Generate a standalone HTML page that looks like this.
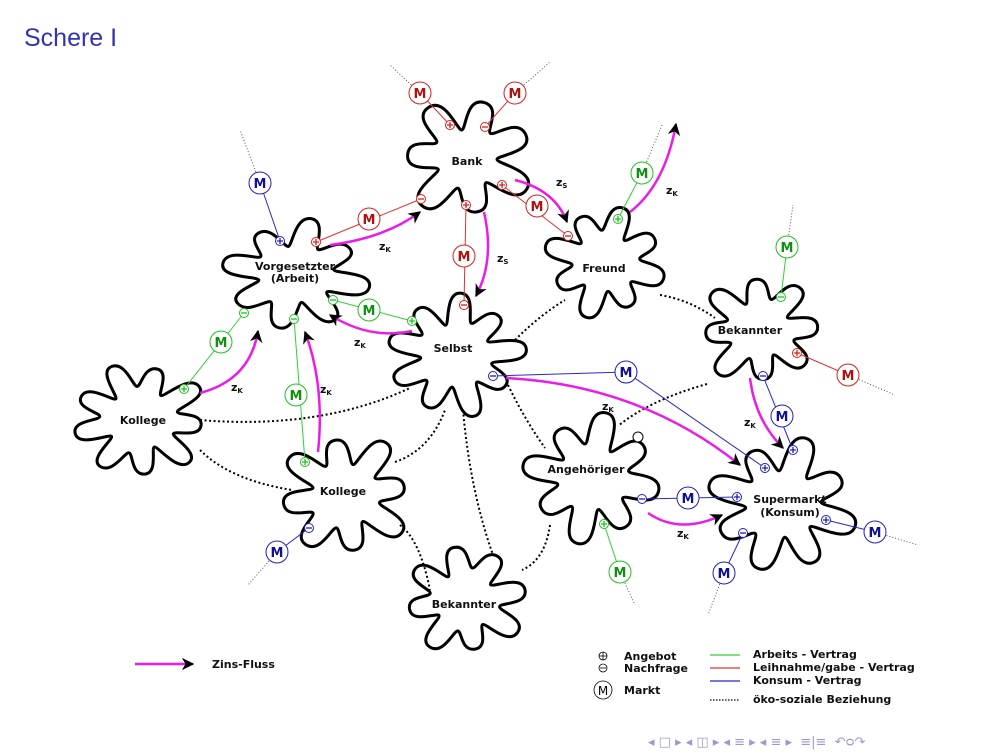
<!DOCTYPE html>
<html><head><meta charset="utf-8">
<style>
html,body{margin:0;padding:0;background:#fff;width:1008px;height:756px;overflow:hidden}
svg{display:block}
text{font-family:"DejaVu Sans","Liberation Sans",sans-serif}
.lb{font-size:11px;font-weight:bold;fill:#111}
.z{font-size:11px;font-weight:bold;fill:#111}
</style></head><body>
<svg id="s" width="1008" height="756" viewBox="0 0 1008 756" xmlns="http://www.w3.org/2000/svg">
<defs>
<marker id="ah" viewBox="0 0 10 10" refX="9" refY="5" markerWidth="5" markerHeight="5" orient="auto"><path d="M0,0 L10,5 L0,10 L3,5z" fill="#000"/></marker>
</defs>
<text x="24" y="46" font-size="25" fill="#3333b2" style="font-family:'Liberation Sans',sans-serif">Schere I</text>
<g id="blobs" fill="none" stroke="#000" stroke-width="3"></g>
<g fill="none" stroke="#000" stroke-width="2" stroke-dasharray="2,2.5">
<path d="M515,340 Q540,315 565,300"/>
<path d="M660,295 Q690,300 715,318"/>
<path d="M707,384 Q650,400 618,426"/>
<path d="M200,420 Q320,430 410,388"/>
<path d="M200,450 Q230,480 292,490"/>
<path d="M395,462 Q430,450 445,410"/>
<path d="M463,410 Q470,490 493,555"/>
<path d="M400,525 Q420,540 430,590"/>
<path d="M508,385 Q525,420 545,448"/>
<path d="M550,525 Q545,560 522,570"/>
</g>
<g fill="none" stroke="#555" stroke-width="1" stroke-dasharray="1,2">
<path d="M420,93 L390,65"/><path d="M515,93 L550,62"/><path d="M260,183 L240,130"/>
<path d="M642,173 L662,125"/><path d="M787,247 L793,205"/><path d="M848,375 L895,395"/>
<path d="M875,532 L918,545"/><path d="M724,573 L708,615"/><path d="M277,552 L248,585"/><path d="M620,572 L635,605"/>
</g>
<g fill="none" stroke-width="1">
<g stroke="#e03030"><path d="M420,93 L450,125"/><path d="M515,93 L485,127"/><path d="M502,185 L568,236"/><path d="M421,199 L316,242"/><path d="M466,205 L464,305"/><path d="M797,353 L848,375"/></g>
<g stroke="#2828c8"><path d="M260,183 L280,241"/><path d="M493,376 L626,372 L765,468"/><path d="M763,376 L793,450"/><path d="M642,499 L737,497"/><path d="M826,520 L875,532"/><path d="M743,533 L724,573"/><path d="M309,528 L277,552"/></g>
<g stroke="#30d030"><path d="M618,219 L642,173"/><path d="M787,247 L781,297"/><path d="M244,313 L184,389"/><path d="M294,319 L305,462"/><path d="M333,300 L412,321"/><path d="M604,524 L620,572"/></g>
</g>
<g fill="none" stroke="#e81ee8" stroke-width="2.5" marker-end="url(#ah)">
<path d="M330,245 Q385,238 420,212"/>
<path d="M515,180 Q555,190 567,222"/>
<path d="M484,212 Q495,260 476,296"/>
<path d="M630,212 Q665,185 676,124"/>
<path d="M412,331 Q370,340 330,315"/>
<path d="M200,393 Q250,380 258,331"/>
<path d="M318,452 Q325,385 305,332"/>
<path d="M506,378 Q640,385 740,465"/>
<path d="M750,378 Q755,420 783,448"/>
<path d="M648,513 Q680,535 722,515"/>
<path d="M135,664 L193,664"/>
</g>
<g id="marks"></g>
<circle cx="638" cy="437" r="5" fill="#fff" stroke="#000" stroke-width="1"/>
<g class="lb" text-anchor="middle">
<text x="467" y="165">Bank</text>
<text x="295" y="270">Vorgesetzter</text><text x="295" y="282">(Arbeit)</text>
<text x="604" y="272">Freund</text>
<text x="453" y="352">Selbst</text>
<text x="750" y="334">Bekannter</text>
<text x="143" y="424">Kollege</text>
<text x="343" y="495">Kollege</text>
<text x="586" y="473">Angehöriger</text>
<text x="790" y="503">Supermarkt</text><text x="790" y="516">(Konsum)</text>
<text x="464" y="608">Bekannter</text>
</g>
<g class="z">
<text x="379" y="250">z<tspan font-size="7" dy="2">K</tspan></text>
<text x="556" y="186">z<tspan font-size="7" dy="2">S</tspan></text>
<text x="497" y="262">z<tspan font-size="7" dy="2">S</tspan></text>
<text x="666" y="194">z<tspan font-size="7" dy="2">K</tspan></text>
<text x="354" y="346">z<tspan font-size="7" dy="2">K</tspan></text>
<text x="231" y="391">z<tspan font-size="7" dy="2">K</tspan></text>
<text x="320" y="393">z<tspan font-size="7" dy="2">K</tspan></text>
<text x="602" y="410">z<tspan font-size="7" dy="2">K</tspan></text>
<text x="744" y="426">z<tspan font-size="7" dy="2">K</tspan></text>
<text x="677" y="537">z<tspan font-size="7" dy="2">K</tspan></text>
</g>
<text x="212" y="668" class="lb">Zins-Fluss</text>
<g class="lb">
<text x="624" y="660">Angebot</text><text x="624" y="672">Nachfrage</text><text x="624" y="694">Markt</text>
<text x="753" y="658">Arbeits - Vertrag</text><text x="753" y="671">Leihnahme/gabe - Vertrag</text><text x="753" y="684">Konsum - Vertrag</text><text x="753" y="703">öko-soziale Beziehung</text>
</g>
<g stroke-width="1.2"><path d="M710,655 H740" stroke="#30d030"/><path d="M710,668 H740" stroke="#e03030"/><path d="M710,681 H740" stroke="#2828c8"/><path d="M710,700 H740" stroke="#000" stroke-dasharray="1.5,1.5"/></g>
<g fill="none" stroke="#000" stroke-width="0.8"><circle cx="603" cy="656" r="4"/><path d="M599,656h8M603,652v8"/><circle cx="603" cy="668" r="4"/><path d="M600,668h6"/><circle cx="603" cy="690" r="9"/></g>
<text x="603" y="695" text-anchor="middle" font-size="12" fill="#000">M</text>
<text x="648" y="746" font-size="13" fill="#9a9acc">◂ □ ▸ ◂ ◫ ▸ ◂ ≡ ▸ ◂ ≡ ▸ &#160;≡|≡ &#160;↶ᴑ↷</text>
</svg>
<script>
(function(){
var NS="http://www.w3.org/2000/svg";
function blob(cx,cy,rx,ry,n,a,ph){
 var K=2*n,pts=[];
 for(var k=0;k<K;k++){
  var t=ph+k*Math.PI/n;
  var out=(k%2==0);
  var jit=1+0.08*Math.sin(k*1.7+ph*3);
  var r=(out?1+a:1-a)*jit;
  var x=cx+rx*r*Math.cos(t),y=cy+ry*r*Math.sin(t);
  var tx=-rx*Math.sin(t),ty=ry*Math.cos(t);var tl=Math.hypot(tx,ty);tx/=tl;ty/=tl;
  var L=(out?1.15:0.55)*r*Math.min(rx,ry)*Math.PI/n*0.62;
  pts.push({x:x,y:y,tx:tx,ty:ty,L:L});
 }
 var d="M"+pts[0].x.toFixed(1)+","+pts[0].y.toFixed(1);
 for(var k=0;k<K;k++){var p=pts[k],q=pts[(k+1)%K];
  d+="C"+(p.x+p.tx*p.L).toFixed(1)+","+(p.y+p.ty*p.L).toFixed(1)+" "+(q.x-q.tx*q.L).toFixed(1)+","+(q.y-q.ty*q.L).toFixed(1)+" "+q.x.toFixed(1)+","+q.y.toFixed(1);}
 var e=document.createElementNS(NS,"path");e.setAttribute("d",d+"Z");
 document.getElementById("blobs").appendChild(e);}
blob(467,158,48,45,7,0.32,0.5);
blob(295,275,55,42,8,0.28,1);
blob(605,262,45,42,8,0.28,0.3);
blob(455,355,52,46,9,0.28,2);
blob(760,330,46,42,8,0.28,1.5);
blob(140,420,52,44,9,0.28,0.8);
blob(345,495,50,46,8,0.3,2.2);
blob(592,478,50,48,8,0.3,0.2);
blob(782,505,55,50,8,0.3,1.1);
blob(465,600,46,42,8,0.28,0.6);
var g=document.getElementById("marks");
var C={r:"#d42020",b:"#2020c0",g:"#20c020"};
var Mk={r:"#b01010",b:"#101090",g:"#109010"};
function M(x,y,c){var e=document.createElementNS(NS,"circle");e.setAttribute("cx",x);e.setAttribute("cy",y);e.setAttribute("r",11);e.setAttribute("fill","#fff");e.setAttribute("stroke",C[c]);g.appendChild(e);
 var t=document.createElementNS(NS,"text");t.setAttribute("x",x);t.setAttribute("y",y+5);t.setAttribute("text-anchor","middle");t.setAttribute("font-size","13");t.setAttribute("font-weight","bold");t.setAttribute("fill",Mk[c]);t.textContent="M";g.appendChild(t);}
function P(x,y,c,plus){var e=document.createElementNS(NS,"circle");e.setAttribute("cx",x);e.setAttribute("cy",y);e.setAttribute("r",4.5);e.setAttribute("fill","#fff");e.setAttribute("stroke",C[c]);g.appendChild(e);
 var p=document.createElementNS(NS,"path");p.setAttribute("d","M"+(x-3)+","+y+"h6"+(plus?"M"+x+","+(y-3)+"v6":""));p.setAttribute("stroke",C[c]);p.setAttribute("stroke-width","1.3");g.appendChild(p);}
[[420,93,"r"],[515,93,"r"],[537,206,"r"],[369,219,"r"],[464,256,"r"],[848,375,"r"],
 [260,183,"b"],[626,372,"b"],[782,416,"b"],[688,498,"b"],[875,532,"b"],[724,573,"b"],[277,552,"b"],
 [642,173,"g"],[787,247,"g"],[221,342,"g"],[296,395,"g"],[369,310,"g"],[620,572,"g"]].forEach(function(a){M(a[0],a[1],a[2]);});
[[450,125,"r",1],[485,127,"r",0],[502,185,"r",1],[568,236,"r",0],[421,199,"r",0],[316,242,"r",1],[466,205,"r",1],[464,305,"r",0],[797,353,"r",1],
 [280,241,"b",1],[493,376,"b",0],[765,468,"b",1],[763,376,"b",0],[793,450,"b",1],[642,499,"b",0],[737,497,"b",1],[826,520,"b",1],[743,533,"b",0],[309,528,"b",0],
 [618,219,"g",1],[781,297,"g",0],[244,313,"g",0],[184,389,"g",1],[294,319,"g",0],[305,462,"g",1],[333,300,"g",0],[412,321,"g",1],[604,524,"g",1]].forEach(function(a){P(a[0],a[1],a[2],a[3]);});
})();
</script>
</body></html>
